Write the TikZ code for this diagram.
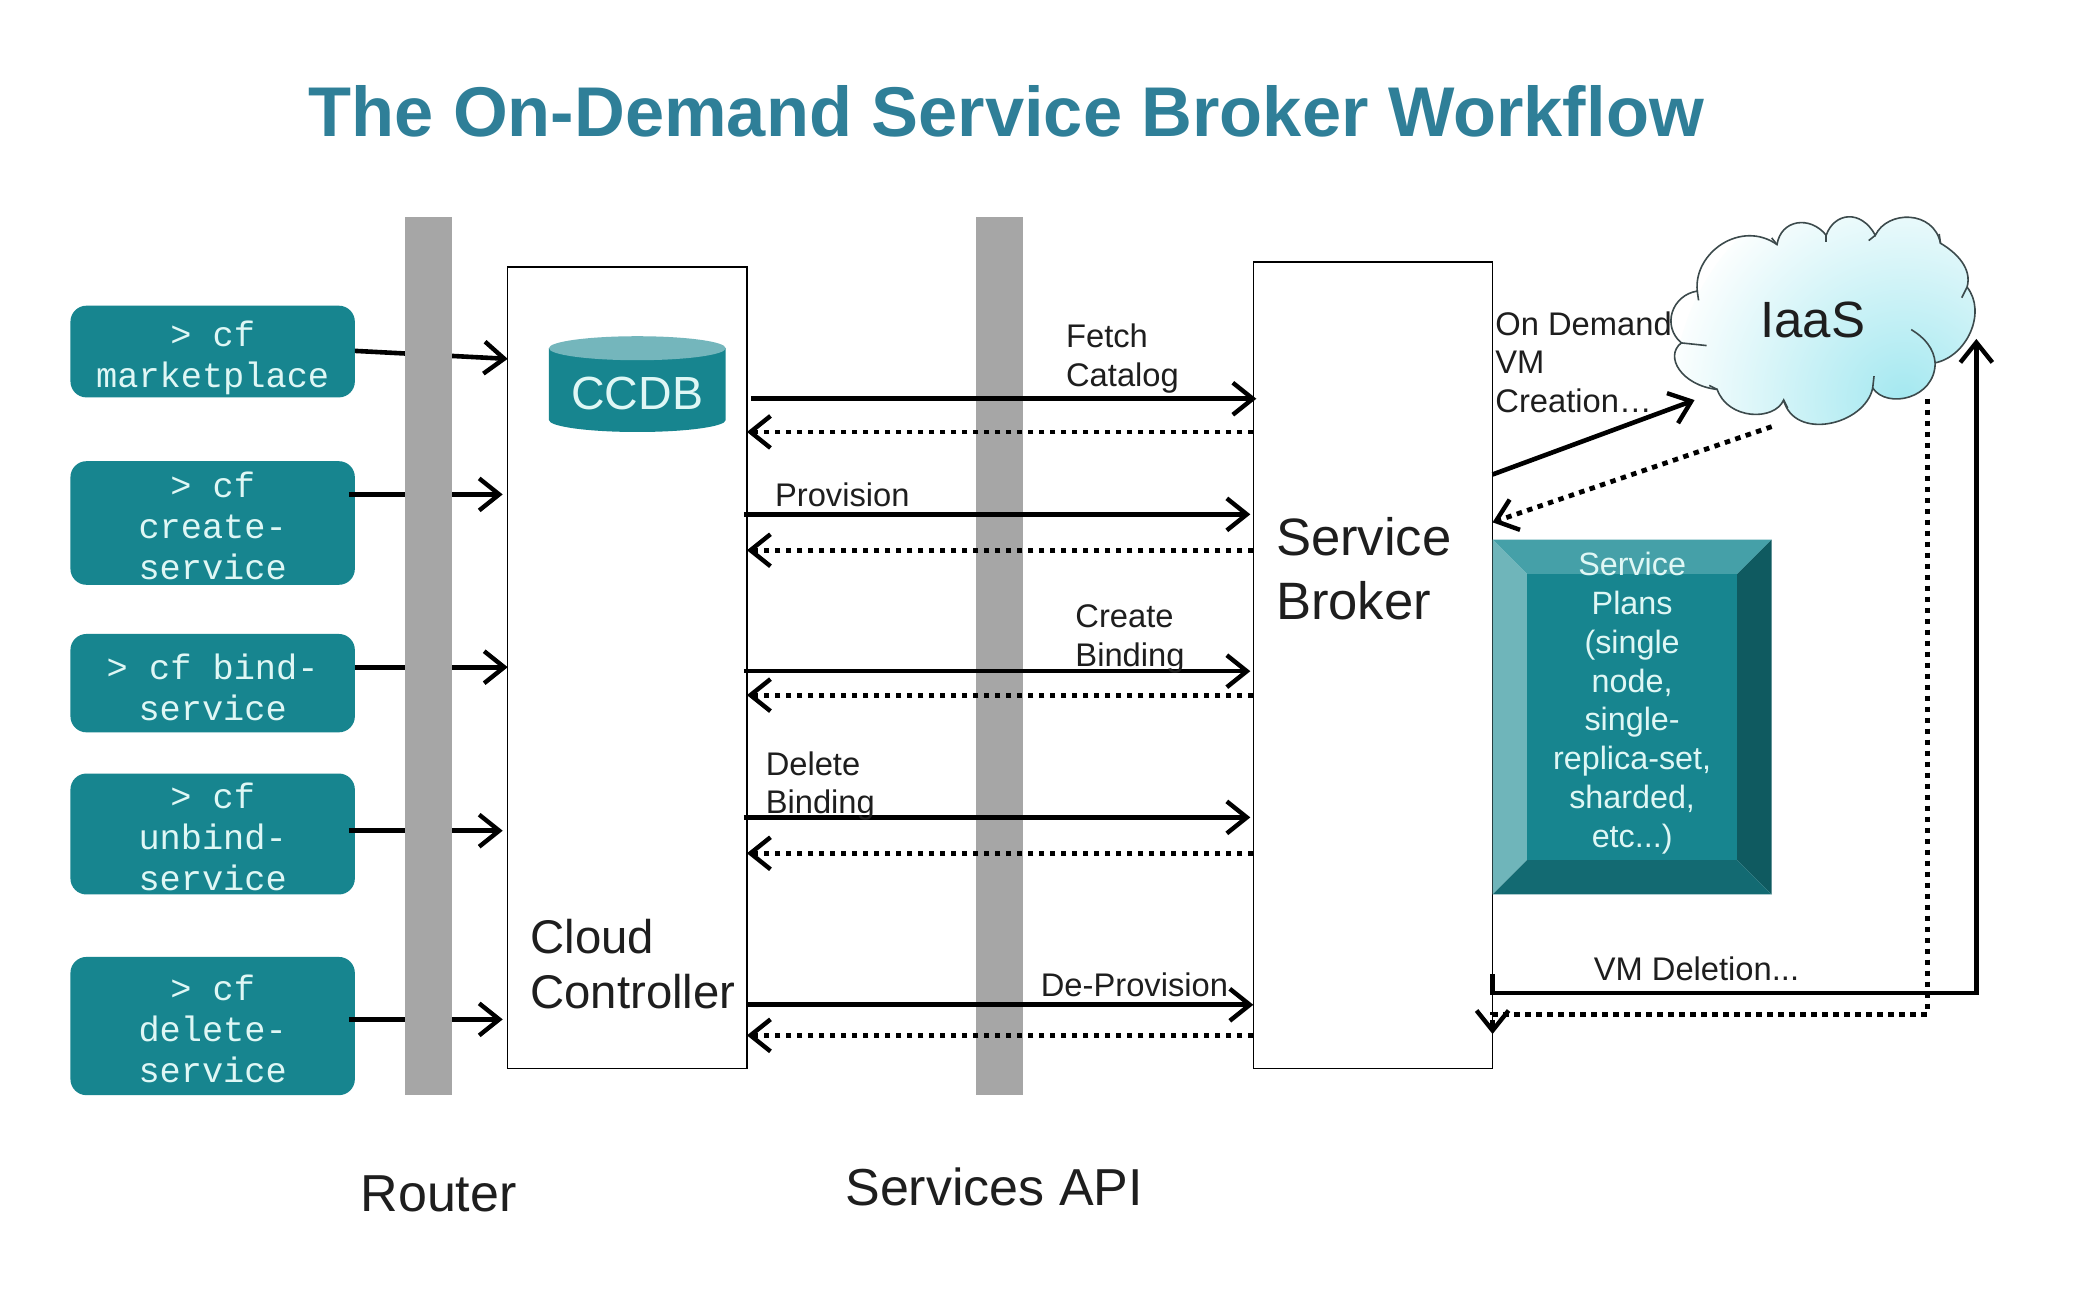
\documentclass[tikz,border=0pt]{standalone}
\usepackage{fontspec}
\setmainfont{Liberation Sans}
\setmonofont{Liberation Mono}
\usetikzlibrary{arrows.meta,calc}
\definecolor{tealbox}{HTML}{17858F}
\definecolor{titleblue}{HTML}{2F7F98}
\definecolor{barsgray}{HTML}{A6A6A6}
\definecolor{bevT}{HTML}{45A0A8}
\definecolor{bevL}{HTML}{6FB5BA}
\definecolor{bevR}{HTML}{0F5A60}
\definecolor{bevB}{HTML}{136A72}
\definecolor{cyltop}{HTML}{74B6BC}
\definecolor{paletxt}{HTML}{DFF7F5}
\definecolor{inktxt}{HTML}{1E1E1E}
\definecolor{cloudin}{HTML}{A4E8F0}
\definecolor{cloudout}{HTML}{FBFEFE}
\definecolor{cloudline}{HTML}{3C4A4C}
\def\u{1.32908pt}
\newcommand{\fsz}[2]{\fontsize{#1pt}{#2pt}\selectfont}
\newcommand{\cloudoutline}{(1265,258) .. controls (1250,245) and (1258,222) .. (1277,219)
  .. controls (1274,190) and (1310,165) .. (1337,184)
  .. controls (1340,165) and (1362,162) .. (1374,177)
  .. controls (1380,160) and (1400,157) .. (1411,177)
  .. controls (1420,158) and (1455,158) .. (1460,183)
  .. controls (1472,190) and (1484,202) .. (1480,216)
  .. controls (1495,235) and (1480,268) .. (1456,273)
  .. controls (1456,300) and (1420,308) .. (1409,292)
  .. controls (1403,320) and (1350,332) .. (1342,301)
  .. controls (1335,317) and (1300,316) .. (1292,293)
  .. controls (1265,290) and (1252,268) .. (1265,258) -- cycle}
\tikzset{
  x=1.32908pt,y=-1.32908pt,
  cmdbox/.style={rectangle,rounded corners=16pt,fill=tealbox,inner sep=0pt,outer sep=0pt,minimum width={214*\u}},
  cmdlabel/.style={inner sep=0pt,align=center,text=paletxt,font=\ttfamily\fsz{35.3}{41.2}},
  bigbox/.style={rectangle,draw=black,fill=white,line width=1.5pt,inner sep=0pt,outer sep=0pt},
  router/.style={rectangle,fill=barsgray,inner sep=0pt,outer sep=0pt},
  smalltxt/.style={anchor=west,inner sep=0pt,align=left,text=inktxt,font=\fsz{32.7}{38.7}},
  bigtxt/.style={inner sep=0pt,text=inktxt,font=\fsz{52}{64}},
  cloudstroke/.style={draw=cloudline,line width=1.6pt},
  solidarr/.style={line width=4.6pt,-{Straight Barb[length=20pt,width=32pt,line width=4.4pt]}},
  dotarr/.style={line width=4.8pt,dash pattern=on 5.5pt off 5.5pt,-{Straight Barb[length=20pt,width=32pt,line width=4.4pt]}},
}
\begin{document}
\begin{tikzpicture}
\useasboundingbox (0,0) rectangle (1568,970.6);
\fill[white] (0,0) rectangle (1568,970.6);
\node[inner sep=0pt,text=titleblue,font=\bfseries\fsz{70.4}{80}] (title) at (757,84) {The On-Demand Service Broker Workflow};

% command boxes
\node[cmdbox,minimum height={69*\u},label={[cmdlabel,yshift=-6.7pt]center:{> cf\\marketplace}}] (c1) at (160,264.5) {};
\node[cmdbox,minimum height={93*\u},label={[cmdlabel,yshift=-2.7pt]center:{> cf\\create-\\service}}] (c2) at (160,393.5) {};
\node[cmdbox,minimum height={74*\u},label={[cmdlabel,yshift=-4.3pt]center:{> cf bind-\\service}}] (c3) at (160,514) {};
\node[cmdbox,minimum height={91*\u},label={[cmdlabel,yshift=-2.7pt]center:{> cf\\unbind-\\service}}] (c4) at (160,627.5) {};
\node[cmdbox,minimum height={104*\u},label={[cmdlabel,yshift=-2.7pt]center:{> cf\\delete-\\service}}] (c5) at (160,772) {};

% main boxes
\node[bigbox,minimum width={180*\u},minimum height={603*\u}] (cc) at (472,502.5) {};
\node[bigbox,minimum width={180*\u},minimum height={607*\u}] (sb) at (1033,500.5) {};

% level coordinates
\coordinate (lA) at (0,270);  \coordinate (lB) at (0,372);
\coordinate (lC) at (0,502);  \coordinate (lD) at (0,625);
\coordinate (lE) at (0,767);  \coordinate (lS) at (0,264);

% arrows from commands (behind the router bar)
\draw[solidarr] (c1.east|-lS) -- (cc.west|-lA);
\draw[solidarr] ([xshift=-6pt]c2.east|-lB) -- ([xshift=-5pt]cc.west|-lB);
\draw[solidarr] (c3.east|-lC) -- (cc.west|-lC);
\draw[solidarr] ([xshift=-6pt]c4.east|-lD) -- ([xshift=-5pt]cc.west|-lD);
\draw[solidarr] ([xshift=-6pt]c5.east|-lE) -- ([xshift=-5pt]cc.west|-lE);

% bars
\node[router,minimum width={35*\u},minimum height={661*\u}] (rbar) at (322.5,493.5) {};
\node[router,minimum width={36*\u},minimum height={661*\u}] (abar) at (752,493.5) {};

% CCDB
\fill[tealbox] (413,262) -- (413,316) arc[x radius=88.4pt,y radius=12pt,start angle=180,end angle=360] -- (546,262) -- cycle;
\fill[cyltop] (479.5,262) ellipse[x radius=88.4pt,y radius=12pt];
\node[inner sep=0pt,text=paletxt,font=\fsz{46.5}{50}] (ccdb) at (479.5,296) {CCDB};

% API arrows
\coordinate (f1) at (0,300); \coordinate (f2) at (0,325);
\coordinate (p1) at (0,387); \coordinate (p2) at (0,414);
\coordinate (b1) at (0,505); \coordinate (b2) at (0,523);
\coordinate (d1) at (0,615); \coordinate (d2) at (0,642);
\coordinate (x1) at (0,756); \coordinate (x2) at (0,779);
\draw[solidarr] ([xshift=4pt]cc.east|-f1) -- ([xshift=3pt]sb.west|-f1);
\draw[dotarr] (sb.west|-f2) -- (cc.east|-f2);
\draw[solidarr] ([xshift=-3pt]cc.east|-p1) -- ([xshift=-3pt]sb.west|-p1);
\draw[dotarr] (sb.west|-p2) -- (cc.east|-p2);
\draw[solidarr] ([xshift=-3pt]cc.east|-b1) -- ([xshift=-3pt]sb.west|-b1);
\draw[dotarr] (sb.west|-b2) -- (cc.east|-b2);
\draw[solidarr] ([xshift=-3pt]cc.east|-d1) -- ([xshift=-3pt]sb.west|-d1);
\draw[dotarr] (sb.west|-d2) -- (cc.east|-d2);
\draw[solidarr] (cc.east|-x1) -- (sb.west|-x1);
\draw[dotarr] (sb.west|-x2) -- (cc.east|-x2);

% labels on arrows
\node[smalltxt] (l1) at (802,270) {Fetch\\Catalog};
\node[smalltxt] (l2) at (583,372) {Provision};
\node[smalltxt] (l3) at (809,481) {Create\\Binding};
\node[smalltxt] (l4) at (576,591.5) {Delete\\Binding};
\node[smalltxt] (l5) at (783,741) {De-Provision};
\node[smalltxt] (l6) at (1125,272.5) {On Demand\\VM\\Creation…};
\node[smalltxt] (l7) at (1199,729) {VM Deletion...};

% big labels
\node[bigtxt,anchor=west,align=left,font=\fsz{52.6}{64}] (sbt) at (960,428) {Service\\Broker};
\node[bigtxt,anchor=west,align=left,font=\fsz{47.3}{55}] (cct) at (399,725.5) {Cloud\\Controller};
\node[bigtxt] (rt) at (330,898) {Router};
\node[bigtxt] (at) at (748,893) {Services API};

% bevel box
\fill[bevT] (1123,406) -- (1333,406) -- (1307,432) -- (1149,432) -- cycle;
\fill[bevL] (1123,406) -- (1149,432) -- (1149,647) -- (1123,673) -- cycle;
\fill[bevR] (1333,406) -- (1333,673) -- (1307,647) -- (1307,432) -- cycle;
\fill[bevB] (1123,673) -- (1149,647) -- (1307,647) -- (1333,673) -- cycle;
\fill[tealbox] (1149,432) rectangle (1307,647);
\node[inner sep=0pt,align=center,text=paletxt,font=\fsz{32.3}{38.9}] (plans) at (1228,529)
  {Service\\Plans\\(single\\node,\\single-\\replica-set,\\sharded,\\etc...)};

% cloud
\begin{scope}
  \clip \cloudoutline;
  \shade[inner color=cloudin,outer color=cloudout] (1432,300) circle[radius=230pt];
\end{scope}
\draw[cloudstroke] \cloudoutline;
\draw[cloudstroke] (1265,258) -- (1284,260);
\draw[cloudstroke] (1277,219) -- (1278,226);
\draw[cloudstroke] (1337,184) -- (1333,179);
\draw[cloudstroke] (1374,177) -- (1374,182);
\draw[cloudstroke] (1411,177) -- (1406,181);
\draw[cloudstroke] (1460,183) -- (1459,176);
\draw[cloudstroke] (1480,216) -- (1476,224);
\draw[cloudstroke] (1456,273) .. controls (1455,262) and (1448,254) .. (1438,248);
\draw[cloudstroke] (1409,292) -- (1410,283);
\draw[cloudstroke] (1342,301) -- (1345,307);
\draw[cloudstroke] (1292,293) -- (1286,290);
\node[bigtxt,font=\fsz{51}{55}] (iaas) at (1364,241) {IaaS};
\coordinate (ci) at (1275,301);
\coordinate (co) at (1333,321);
\coordinate (ydown) at (0,393);
\coordinate (yup) at (0,357);
\draw[solidarr] (sb.east|-yup) -- (ci);
\draw[dotarr] (co) -- (sb.east|-ydown);

% VM deletion
\coordinate (vs) at (1123,733);
\coordinate (vc) at (1487,747);
\coordinate (vt) at (1487,255);
\coordinate (ds) at (1450,300);
\coordinate (dc) at (1450,763);
\coordinate (de) at (1123,778);
\draw[dotarr] (ds) -- (dc) -- (de|-dc) -- (de);
\draw[solidarr] (vs) -- (vs|-vc) -- (vc) -- (vt);
\end{tikzpicture}
\end{document}
